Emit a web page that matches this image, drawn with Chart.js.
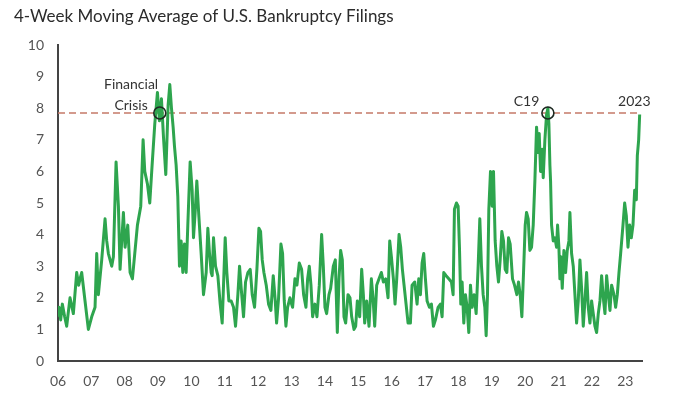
<!DOCTYPE html>
<html>
<head>
<meta charset="utf-8">
<script src="https://cdn.jsdelivr.net/npm/chart.js@4.4.0/dist/chart.umd.min.js"></script>
<style>
  html, body { margin: 0; padding: 0; background: #fff; }
  #wrap { width: 700px; height: 394px; }
</style>
</head>
<body>
<div id="wrap"><canvas id="chart"></canvas></div>
<script>
// ===== DATA =====
const title = '4-Week Moving Average of U.S. Bankruptcy Filings';
const yearTicks = [2006, 2007, 2008, 2009, 2010, 2011, 2012, 2013, 2014, 2015, 2016, 2017, 2018, 2019, 2020, 2021, 2022, 2023];

const dates = [
  2006.00, 2006.03, 2006.08, 2006.13, 2006.20, 2006.26, 2006.36, 2006.46, 2006.56, 2006.62, 2006.66, 2006.71, 2006.81, 2006.91,
  2007.01, 2007.11, 2007.16, 2007.21, 2007.31, 2007.41, 2007.46, 2007.51, 2007.61, 2007.66, 2007.74, 2007.81, 2007.86, 2007.96,
  2008.01, 2008.09, 2008.16, 2008.23, 2008.30, 2008.38, 2008.48, 2008.55, 2008.60, 2008.68, 2008.75, 2008.82, 2008.90, 2008.98,
  2009.04, 2009.10, 2009.16, 2009.23, 2009.30, 2009.35, 2009.40, 2009.45, 2009.49, 2009.54, 2009.59, 2009.64, 2009.69, 2009.74, 2009.79, 2009.84, 2009.89, 2009.96,
  2010.02, 2010.06, 2010.11, 2010.16, 2010.22, 2010.29, 2010.36, 2010.44, 2010.49, 2010.54, 2010.59, 2010.62, 2010.66, 2010.72, 2010.79, 2010.86, 2010.92, 2010.96,
  2011.01, 2011.06, 2011.12, 2011.19, 2011.26, 2011.32, 2011.39, 2011.44, 2011.49, 2011.56, 2011.62, 2011.69, 2011.76, 2011.82, 2011.89, 2011.96,
  2012.02, 2012.07, 2012.12, 2012.17, 2012.24, 2012.31, 2012.38, 2012.45, 2012.51, 2012.55, 2012.61, 2012.68, 2012.73, 2012.78, 2012.83, 2012.88, 2012.95,
  2013.00, 2013.03, 2013.10, 2013.16, 2013.23, 2013.30, 2013.36, 2013.43, 2013.48, 2013.53, 2013.58, 2013.63, 2013.70, 2013.76, 2013.83, 2013.90, 2013.95,
  2014.00, 2014.05, 2014.12, 2014.17, 2014.25, 2014.31, 2014.37, 2014.42, 2014.47, 2014.52, 2014.57, 2014.62, 2014.69, 2014.75, 2014.80, 2014.87, 2014.92, 2014.97,
  2015.04, 2015.10, 2015.15, 2015.19, 2015.25, 2015.32, 2015.39, 2015.44, 2015.49, 2015.55, 2015.62, 2015.69, 2015.75, 2015.82, 2015.89, 2015.94, 2015.99,
  2016.05, 2016.10, 2016.15, 2016.22, 2016.27, 2016.32, 2016.37, 2016.43, 2016.49, 2016.56, 2016.61, 2016.69, 2016.76, 2016.81, 2016.86, 2016.91, 2016.96,
  2017.01, 2017.06, 2017.13, 2017.19, 2017.25, 2017.31, 2017.39, 2017.46, 2017.51, 2017.56, 2017.63, 2017.71, 2017.79, 2017.84, 2017.88, 2017.94, 2017.99,
  2018.03, 2018.07, 2018.11, 2018.16, 2018.21, 2018.26, 2018.31, 2018.36, 2018.41, 2018.47, 2018.53, 2018.59, 2018.64, 2018.69, 2018.74, 2018.79, 2018.83, 2018.87, 2018.91, 2018.96,
  2019.01, 2019.05, 2019.10, 2019.15, 2019.20, 2019.25, 2019.30, 2019.35, 2019.40, 2019.45, 2019.50, 2019.55, 2019.62, 2019.68, 2019.75, 2019.80, 2019.85, 2019.90, 2019.95,
  2020.00, 2020.04, 2020.09, 2020.14, 2020.19, 2020.24, 2020.29, 2020.34, 2020.39, 2020.42, 2020.46, 2020.51, 2020.54, 2020.59, 2020.64, 2020.68, 2020.71, 2020.74, 2020.76, 2020.79, 2020.84, 2020.89, 2020.94, 2020.97,
  2021.01, 2021.04, 2021.07, 2021.11, 2021.16, 2021.21, 2021.26, 2021.31, 2021.34, 2021.39, 2021.44, 2021.49, 2021.54, 2021.59, 2021.64, 2021.69, 2021.74, 2021.79, 2021.84, 2021.89, 2021.94, 2021.99,
  2022.04, 2022.09, 2022.14, 2022.19, 2022.24, 2022.29, 2022.34, 2022.39, 2022.44, 2022.49, 2022.54, 2022.59, 2022.66, 2022.71, 2022.76, 2022.81, 2022.86, 2022.93, 2022.98,
  2023.03, 2023.08, 2023.13, 2023.18, 2023.23, 2023.28, 2023.33, 2023.36, 2023.40, 2023.43
];

const filings = [
  1.4, 1.7, 1.3, 1.8, 1.4, 1.1, 2.0, 1.5, 2.8, 2.4, 2.6, 2.8, 1.9, 1.0,
  1.4, 1.7, 3.4, 2.1, 3.2, 4.5, 3.8, 3.4, 3.0, 3.3, 6.3, 4.9, 2.9, 4.7,
  3.6, 4.3, 2.8, 2.6, 3.4, 4.3, 4.9, 7.0, 6.0, 5.6, 5.0, 6.2, 7.5, 8.5,
  7.6, 8.3, 7.1, 5.9, 8.1, 8.75, 8.0, 7.4, 6.8, 6.2, 5.2, 3.0, 3.8, 2.8, 3.7, 2.8, 4.3, 6.3,
  5.4, 3.9, 4.7, 5.7, 4.6, 3.4, 2.1, 2.8, 4.2, 3.4, 2.8, 2.7, 3.9, 3.0, 2.7, 1.8, 1.2, 2.4,
  3.9, 2.8, 1.9, 1.9, 1.7, 1.1, 2.1, 3.0, 2.3, 1.4, 2.5, 2.8, 2.9, 2.1, 1.7, 2.9,
  4.2, 4.1, 3.2, 2.8, 2.4, 1.8, 1.6, 2.7, 1.9, 1.2, 2.0, 3.7, 3.4, 1.9, 1.1, 1.7, 2.0,
  1.8, 1.7, 2.6, 2.4, 3.1, 2.9, 2.1, 1.7, 2.6, 3.0, 2.4, 1.4, 1.8, 1.4, 2.4, 4.0, 3.0,
  1.7, 1.5, 2.1, 2.3, 3.0, 3.2, 0.9, 2.6, 3.5, 3.2, 1.4, 1.2, 2.1, 2.0, 1.4, 1.0, 1.1, 1.9,
  1.4, 2.9, 2.1, 1.2, 1.9, 1.1, 2.6, 2.0, 1.1, 2.4, 2.6, 2.8, 2.5, 2.6, 2.0, 3.8, 3.3,
  2.6, 1.8, 2.6, 4.0, 3.6, 2.9, 2.4, 1.8, 1.2, 1.2, 2.4, 2.5, 1.8, 2.6, 2.1, 3.1, 3.4,
  2.6, 1.9, 1.7, 1.8, 1.1, 1.3, 1.7, 1.8, 1.4, 2.8, 2.7, 2.6, 2.5, 2.1, 4.8, 5.0, 4.9,
  3.6, 1.8, 2.5, 1.2, 2.1, 1.7, 0.9, 2.4, 1.7, 2.1, 1.5, 3.0, 4.5, 3.0, 2.1, 1.7, 0.8, 2.1, 4.8, 6.0,
  4.9, 6.0, 3.8, 3.0, 2.5, 3.2, 4.1, 3.8, 2.9, 2.8, 3.9, 3.7, 2.6, 2.4, 2.1, 2.5, 2.1, 1.4, 2.8,
  4.3, 4.7, 4.5, 3.5, 3.6, 4.3, 5.7, 7.4, 6.6, 7.2, 6.0, 6.7, 5.8, 7.0, 7.8, 8.0, 7.5, 6.2, 5.7, 4.3, 3.8, 3.9, 3.6, 4.3,
  3.6, 2.6, 3.3, 2.3, 3.5, 2.8, 3.5, 3.8, 4.7, 3.4, 3.0, 2.1, 1.2, 1.9, 3.2, 2.3, 1.1, 1.9, 2.8, 1.7, 1.2, 1.9,
  1.5, 1.1, 0.9, 1.5, 1.9, 2.7, 2.0, 1.5, 2.7, 2.1, 1.6, 2.4, 2.1, 1.7, 2.1, 2.8, 3.4, 4.3, 5.0,
  4.6, 3.6, 4.3, 3.9, 4.3, 5.4, 5.1, 6.5, 7.0, 7.8
];

// reference level and the two marked peaks
const refLevel = 7.85;
const refSpan = [2006, 2023.43];
const peakDates = [2009.05, 2020.68];

// annotation text, anchored in data units
const notes = [
  { text: 'Financial', x: 2008.19, y: 8.76 },
  { text: 'Crisis', x: 2008.19, y: 8.1 },
  { text: 'C19', x: 2020.04, y: 8.2 },
  { text: '2023', x: 2023.27, y: 8.2 }
];

// ===== PLUGINS =====
const notesPlugin = {
  id: 'notes',
  afterDatasetsDraw(chart) {
    const { ctx, scales } = chart;
    ctx.save();
    ctx.font = '14px Lato, "Noto Sans", sans-serif';
    ctx.fillStyle = '#333';
    ctx.textAlign = 'center';
    ctx.textBaseline = 'middle';
    notes.forEach(n => {
      ctx.fillText(n.text, scales.x.getPixelForValue(n.x), scales.y.getPixelForValue(n.y));
    });
    ctx.restore();
  }
};

// ===== CHART =====
const tickFont = { family: 'Lato, "Noto Sans", sans-serif', size: 14 };

new Chart(document.getElementById('chart'), {
  type: 'line',
  data: {
    datasets: [
      {
        data: peakDates.map(d => ({ x: d, y: refLevel })),
        showLine: false,
        pointRadius: 6,
        pointBorderWidth: 1.6,
        pointBorderColor: '#1e2a22',
        pointBackgroundColor: 'rgba(0,0,0,0)',
      },
      {
        data: dates.map((d, i) => ({ x: d, y: filings[i] })),
        borderColor: '#2ea54e',
        borderWidth: 3,
        pointRadius: 0,
        tension: 0,
        borderJoinStyle: 'round',
      },
      {
        data: refSpan.map(d => ({ x: d, y: refLevel })),
        borderColor: '#c57a68',
        borderWidth: 1.6,
        borderDash: [7, 4],
        pointRadius: 0,
      }
    ]
  },
  options: {
    responsive: true,
    maintainAspectRatio: false,
    animation: false,
    layout: { padding: { top: 6, left: 14, right: 58, bottom: 0 } },
    plugins: {
      legend: { display: false },
      tooltip: { enabled: false },
      title: {
        display: true,
        text: title,
        align: 'start',
        color: '#2b2b2b',
        font: { family: 'Lato, "Noto Sans", sans-serif', size: 17, weight: 'normal', lineHeight: 1.2 },
        padding: { top: 0, bottom: 18.6 }
      }
    },
    scales: {
      x: {
        type: 'linear',
        min: 2006,
        max: 2023.5,
        grid: { display: false, drawTicks: false },
        border: { display: true, color: '#444', width: 2 },
        afterBuildTicks: (scale) => { scale.ticks = yearTicks.map(v => ({ value: v })); },
        afterFit: (scale) => { scale.height = 33; },
        ticks: {
          padding: 12,
          color: '#555',
          font: tickFont,
          maxRotation: 0,
          autoSkip: false,
          callback: (v) => String(v).slice(2)
        }
      },
      y: {
        min: 0,
        max: 10,
        grid: { display: false, drawTicks: false },
        border: { display: true, color: '#444', width: 2 },
        afterFit: (scale) => { scale.width = 44; },
        ticks: { stepSize: 1, padding: 14, color: '#555', font: tickFont }
      }
    }
  },
  plugins: [notesPlugin]
});
</script>
</body>
</html>
